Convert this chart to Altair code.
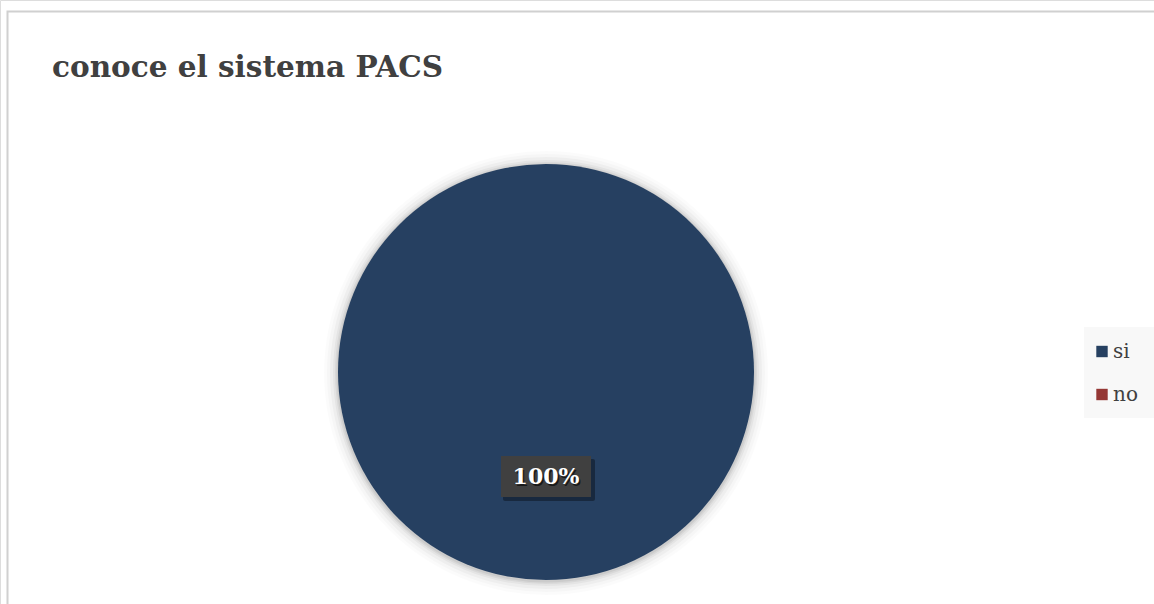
import altair as alt
import pandas as pd

categories = ["si", "no"]
values = [100, 0]
colors = ["#264061", "#953735"]
title_text = "conoce el sistema PACS"
label_text = ["100%"]

W, H = 1154, 604
CX, CY, R = 546, 372, 208

pie_df = pd.DataFrame({"cat": categories, "val": values, "order": [0, 1]})
legend_df = pd.DataFrame({"cat": categories, "row": [0, 1]})
label_df = pd.DataFrame({"label": label_text})
one = pd.DataFrame({"a": [0]})

color_scale = alt.Scale(domain=categories, range=colors)

# outer chart border
border = alt.Chart(one).mark_rect(fill="white", stroke="#d0d0d0", strokeWidth=2).encode(
    x=alt.value(7.5), x2=alt.value(1200), y=alt.value(11.5), y2=alt.value(700)
)

# soft shadow around the pie
shadows = []
for dr, op in [(14, 0.015), (11, 0.02), (8, 0.03), (5, 0.04), (3, 0.05), (1.5, 0.06)]:
    shadows.append(
        alt.Chart(one).mark_arc(radius=R + dr, color="#000000", opacity=op).encode(
            theta=alt.value(6.2832), x=alt.value(CX), y=alt.value(CY + 1)
        )
    )

pie = alt.Chart(pie_df).mark_arc(radius=R, stroke=None).encode(
    theta=alt.Theta("val:Q", stack=True),
    color=alt.Color("cat:N", scale=color_scale, legend=None),
    order=alt.Order("order:Q"),
    x=alt.value(CX),
    y=alt.value(CY),
)

# data label box
lbl_shadow = alt.Chart(label_df).mark_rect(fill="#000000", opacity=0.35, cornerRadius=2).encode(
    x=alt.value(503), x2=alt.value(595), y=alt.value(459), y2=alt.value(501)
)
lbl_box = alt.Chart(label_df).mark_rect(fill="#404040").encode(
    x=alt.value(501), x2=alt.value(591), y=alt.value(456), y2=alt.value(497)
)
lbl_text_shadow = alt.Chart(label_df).mark_text(
    font="DejaVu Serif", fontWeight="bold", fontSize=22, color="#000000", opacity=0.6,
    align="center", baseline="middle"
).encode(text="label:N", x=alt.value(CX + 1.5), y=alt.value(478.5))
lbl_text = alt.Chart(label_df).mark_text(
    font="DejaVu Serif", fontWeight="bold", fontSize=22, color="white",
    align="center", baseline="middle"
).encode(text="label:N", x=alt.value(CX), y=alt.value(477))

# title
title = alt.Chart(one).mark_text(
    text=title_text, font="DejaVu Serif", fontWeight="bold", fontSize=29.5,
    color="#404040", align="left", baseline="alphabetic"
).encode(x=alt.value(52), y=alt.value(77))

# legend
row_scale = alt.Scale(domain=[0, 1], range=[351.5, 394.5])
leg_bg = alt.Chart(one).mark_rect(fill="#f8f8f8").encode(
    x=alt.value(1084), x2=alt.value(1154), y=alt.value(327), y2=alt.value(418)
)
leg_sq = alt.Chart(legend_df).mark_square(size=130, opacity=1, filled=True).encode(
    x=alt.value(1102),
    y=alt.Y("row:Q", scale=row_scale, axis=None),
    color=alt.Color("cat:N", scale=color_scale, legend=None),
)
leg_txt = alt.Chart(legend_df).mark_text(
    font="DejaVu Serif", fontSize=20, color="#404040", align="left", baseline="middle"
).encode(
    x=alt.value(1113),
    y=alt.Y("row:Q", scale=row_scale, axis=None),
    text="cat:N",
)

chart = alt.layer(
    border, *shadows, pie, lbl_shadow, lbl_box, lbl_text_shadow, lbl_text, title,
    leg_bg, leg_sq, leg_txt
).resolve_scale(y="independent").properties(
    width=W, height=H, padding=0, autosize=alt.AutoSizeParams(type="none")
).configure_view(stroke=None).configure(background="white")

chart.save("out.html", embed_options={"renderer": "svg", "actions": False})
